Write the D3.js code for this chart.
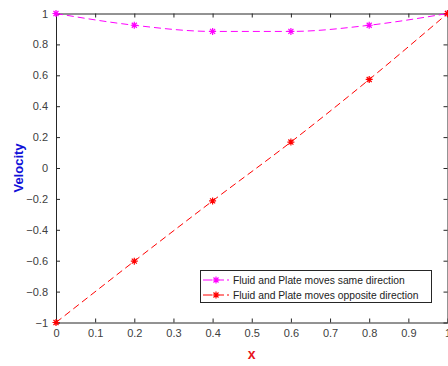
<!DOCTYPE html>
<html>
<head>
<meta charset="utf-8">
<script src="https://cdn.jsdelivr.net/npm/d3@7"></script>
<style>
    body { margin: 0; background: #fff; }
    text { font-family: "Liberation Sans", Arial, sans-serif; }
    .tick text { fill: #404040; font-size: 11px; }
    .tick line, .domain { stroke: #262626; }
</style>
</head>
<body>
<div id="chart"></div>
<script>
const xValues = [0, 0.2, 0.4, 0.6, 0.8, 1];
const sameDirection = [1, 0.924, 0.884, 0.884, 0.924, 1];
const oppositeDirection = [-1, -0.603, -0.213, 0.168, 0.573, 1];
const xTicks = [0, 0.1, 0.2, 0.3, 0.4, 0.5, 0.6, 0.7, 0.8, 0.9, 1];
const yTicks = [-1, -0.8, -0.6, -0.4, -0.2, 0, 0.2, 0.4, 0.6, 0.8, 1];
const seriesNames = ['Fluid and Plate moves same direction', 'Fluid and Plate moves opposite direction'];
const seriesColors = ['#ff00ff', '#ff0000'];

let width = 448, height = 366;
let margin = { top: 13.5, right: 0.5, bottom: 43.5, left: 56 };

let svg = d3.select('#chart').append('svg')
    .attr('width', width)
    .attr('height', height);

let x = d3.scaleLinear()
    .domain([0, 1])
    .range([margin.left, width - margin.right]);

let y = d3.scaleLinear()
    .domain([-1, 1])
    .range([height - margin.bottom, margin.top]);

let fmt = d => d3.format('')(+d.toFixed(1));

// axes (matlab style box, ticks inward)
svg.append('g')
    .attr('transform', `translate(0,${y(-1)})`)
    .call(d3.axisBottom(x).tickValues(xTicks).tickFormat(fmt).tickSizeInner(-4).tickSizeOuter(0).tickPadding(7));
svg.append('g')
    .attr('transform', `translate(0,${y(1)})`)
    .call(d3.axisTop(x).tickValues(xTicks).tickFormat('').tickSizeInner(-4).tickSizeOuter(0));
svg.append('g')
    .attr('transform', `translate(${x(0)},0)`)
    .call(d3.axisLeft(y).tickValues(yTicks).tickFormat(fmt).tickSizeInner(-4).tickSizeOuter(0).tickPadding(8));
svg.append('g')
    .attr('transform', `translate(${x(1)},0)`)
    .call(d3.axisRight(y).tickValues(yTicks).tickFormat('').tickSizeInner(-4).tickSizeOuter(0));

svg.selectAll('.domain').attr('stroke-width', 1);

let series = [sameDirection, oppositeDirection];

let line = d3.line()
    .x((d, i) => x(xValues[i]))
    .y(d => y(d))
    .curve(d3.curveMonotoneX);

// asterisk marker
function star(g, cx, cy, color, r) {
    let s = r * 0.72;
    g.append('path')
        .attr('d', `M${cx - r},${cy}H${cx + r}M${cx},${cy - r}V${cy + r}` +
            `M${cx - s},${cy - s}L${cx + s},${cy + s}M${cx - s},${cy + s}L${cx + s},${cy - s}`)
        .attr('stroke', color)
        .attr('stroke-width', 1.2)
        .attr('fill', 'none');
}

series.forEach((vals, k) => {
    svg.append('path')
        .datum(vals)
        .attr('d', line)
        .attr('fill', 'none')
        .attr('stroke', seriesColors[k])
        .attr('stroke-width', 1)
        .attr('stroke-dasharray', '7,4');

    let g = svg.append('g');
    vals.forEach((v, i) => star(g, x(xValues[i]), y(v), seriesColors[k], 3.5));
});

// axis labels
svg.append('text')
    .text('x')
    .attr('x', x(0.5))
    .attr('y', 359)
    .attr('text-anchor', 'middle')
    .attr('font-weight', 'bold')
    .attr('font-size', 14)
    .attr('fill', '#e8141b');

svg.append('text')
    .text('Velocity')
    .attr('transform', `translate(23,${y(0)}) rotate(-90)`)
    .attr('text-anchor', 'middle')
    .attr('font-weight', 'bold')
    .attr('font-size', 13)
    .attr('fill', '#1010d8');

// legend
let legend = svg.append('g');
legend.append('rect')
    .attr('x', 200.5)
    .attr('y', 270.5)
    .attr('width', 231)
    .attr('height', 32)
    .attr('fill', '#fff')
    .attr('stroke', '#262626')
    .attr('stroke-width', 1);

seriesNames.forEach((name, k) => {
    let ly = 280 + k * 15;
    legend.append('line')
        .attr('x1', 203).attr('x2', 229)
        .attr('y1', ly).attr('y2', ly)
        .attr('stroke', seriesColors[k])
        .attr('stroke-width', 1)
        .attr('stroke-dasharray', '9,3');
    star(legend, 216, ly, seriesColors[k], 3.5);
    legend.append('text')
        .text(name)
        .attr('x', 233)
        .attr('y', ly + 3.5)
        .attr('font-size', 10.3)
        .attr('fill', '#222');
});
</script>
</body>
</html>
